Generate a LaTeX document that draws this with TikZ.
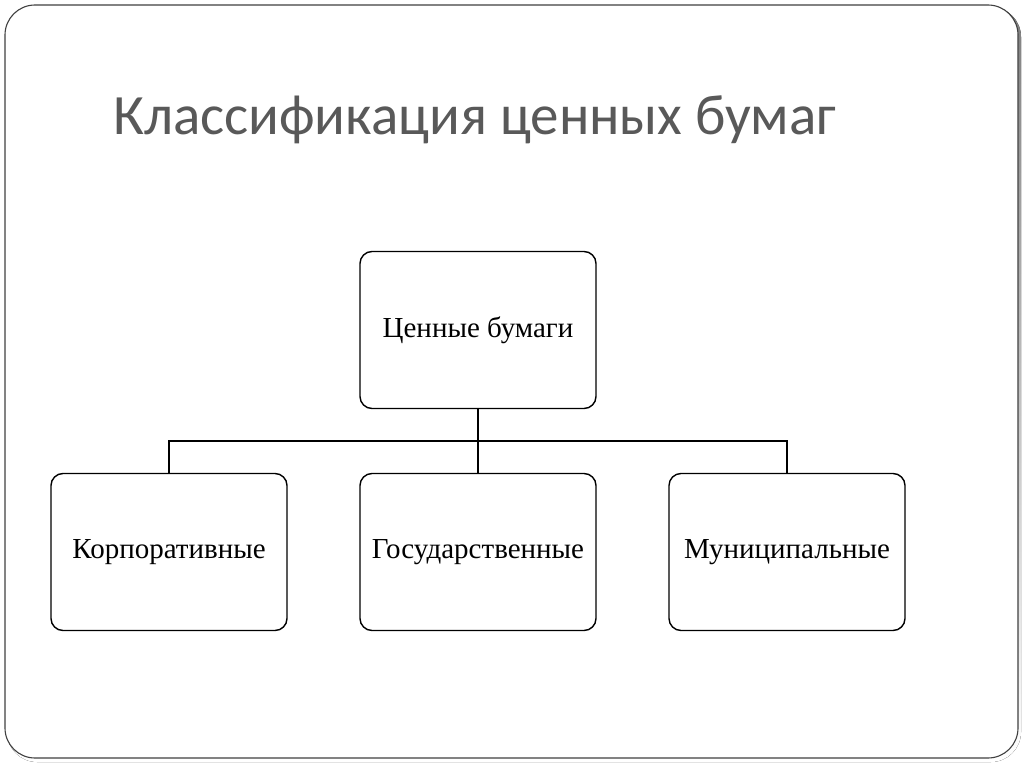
\documentclass[tikz,border=0pt]{standalone}
\usepackage{fontspec}
\setmainfont{Liberation Serif}
\newfontfamily\titlefont{Carlito}
\usepackage{xcolor}
\usetikzlibrary{positioning}
\definecolor{slide}{HTML}{404040}
\definecolor{heading}{HTML}{595959}
\definecolor{shade}{HTML}{F3F3F3}

\begin{document}
\begin{tikzpicture}[
    x=1pt, y=-1pt,
    frame/.style={rounded corners=30pt, draw=slide, line width=1.1pt, fill=white},
    root/.style={rounded corners=12pt, draw=black, line width=1.4pt,
        minimum width=236pt, minimum height=157pt, align=center,
        font=\fontsize{29}{34}\selectfont, inner sep=0pt},
    leaf/.style={root},
    link/.style={draw=black, line width=1.2pt},
    heading/.style={font=\titlefont\fontsize{57}{64}\selectfont, text=heading, anchor=base west, inner sep=0pt},
  ]
  \useasboundingbox (0,0) rectangle (1024,767);
  \fill[shade, rounded corners=30pt] (7,7) rectangle (1021,762);
  \draw[frame] (5,5) rectangle (1018,758);
  \node[heading] (title) at (113,135) {Классификация ценных бумаг};
  \node[root] (top) at (478,330) {Ценные бумаги};
  \node[leaf] (corp) at (169,552) {Корпоративные};
  \node[leaf] (gov) at (478,552) {Государственные};
  \node[leaf] (muni) at (787,552) {Муниципальные};
  \coordinate (bus) at (478,441);
  \draw[link] (top.south) -- (bus);
  \draw[link] (corp.north) |- (bus) -| (muni.north);
  \draw[link] (bus) -- (gov.north);
\end{tikzpicture}
\end{document}
